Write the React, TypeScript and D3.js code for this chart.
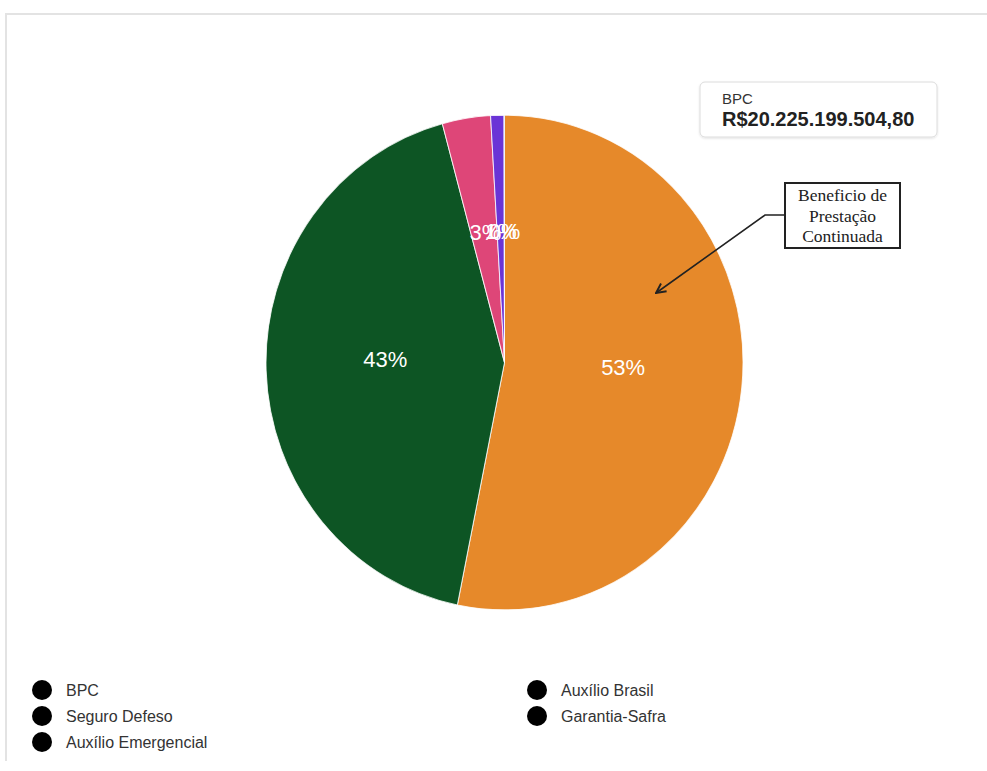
import React from "react";
import * as d3 from "d3";

const categories = ["BPC", "Seguro Defeso", "Auxílio Emergencial", "Auxílio Brasil", "Garantia-Safra"];
const values = [20225199504.8, 16220000000, 1243000000, 342000000, 12000000];
const colors = ["#E6892A", "#0D5524", "#DE4678", "#6A34D6", "#2E86C1"];
const legendColumns = [[0, 1, 2], [3, 4]];
const tooltipLabel = "BPC";
const tooltipValue = "R$20.225.199.504,80";
const annotationLines = ["Beneficio de", "Prestação", "Continuada"];

const W = 987;
const H = 771;
const cx = 504.5;
const cy = 362.5;
const R = 238.5;
const sy = 1.037;

export default function App() {
  const total = d3.sum(values);
  const pie = d3.pie<number>().sort(null).value((d) => d);
  const arcs = pie(values);
  const arc = d3.arc<d3.PieArcDatum<number>>().innerRadius(0).outerRadius(R);
  const font = "'Liberation Sans', Arial, Helvetica, sans-serif";

  return (
    <svg
      width={W}
      height={H}
      style={{ position: "absolute", left: 0, top: 0, background: "#fff" }}
      fontFamily={font}
    >
      <defs>
        <filter id="sh" x="-10%" y="-20%" width="120%" height="150%">
          <feDropShadow dx="0" dy="1" stdDeviation="1.2" floodColor="#000" floodOpacity="0.12" />
        </filter>
        <marker id="arr" viewBox="0 0 10 10" refX="9" refY="5" markerWidth="12" markerHeight="12" orient="auto-start-reverse" markerUnits="userSpaceOnUse">
          <path d="M1,1 L9,5 L1,9" fill="none" stroke="#222" strokeWidth="1.6" />
        </marker>
      </defs>

      {/* card border */}
      <path d={`M6,${H - 10} L6,14 L${W},14`} fill="none" stroke="#e3e3e3" strokeWidth={2} />

      {/* pie */}
      <g transform={`translate(${cx},${cy}) scale(1,${sy})`}>
        {arcs.map((a, i) => (
          <path key={i} d={arc(a) || ""} fill={colors[i]} stroke="#fff" strokeOpacity={0.8} strokeWidth={1} />
        ))}
        {arcs.map((a, i) => {
          const [x, y] = arc.centroid(a);
          return (
            <text key={"t" + i} x={x} y={y} textAnchor="middle" fill="#fff" fontSize={22}>
              {Math.round((values[i] / total) * 100) + "%"}
            </text>
          );
        })}
      </g>

      {/* tooltip */}
      <rect x={700} y={82} width={237} height={55} rx={5} fill="#fff" stroke="#dcdcdc" strokeWidth={1} filter="url(#sh)" />
      <text x={722} y={104} fontSize={15} fill="#333">{tooltipLabel}</text>
      <text x={722} y={126} fontSize={20} fontWeight="bold" fill="#222">{tooltipValue}</text>

      {/* annotation */}
      <rect x={785} y={183} width={115} height={65} fill="#fff" stroke="#222" strokeWidth={2} />
      {annotationLines.map((t, i) => (
        <text key={t} x={842.5} y={201 + i * 20.5} textAnchor="middle" fontSize={17.5} fill="#222" fontFamily="'Liberation Serif', 'Times New Roman', serif">
          {t}
        </text>
      ))}
      <polyline points="785,215 765,215 656,293" fill="none" stroke="#222" strokeWidth={1.6} markerEnd="url(#arr)" />

      {/* legend */}
      {legendColumns.map((col, ci) =>
        col.map((idx, ri) => {
          const x0 = ci === 0 ? 42 : 537;
          const y0 = 690 + ri * 26;
          return (
            <g key={categories[idx]}>
              <circle cx={x0} cy={y0} r={10} fill="#000" />
              <text x={x0 + 24} y={y0 + 6} fontSize={16} fill="#333">
                {categories[idx]}
              </text>
            </g>
          );
        })
      )}
    </svg>
  );
}
